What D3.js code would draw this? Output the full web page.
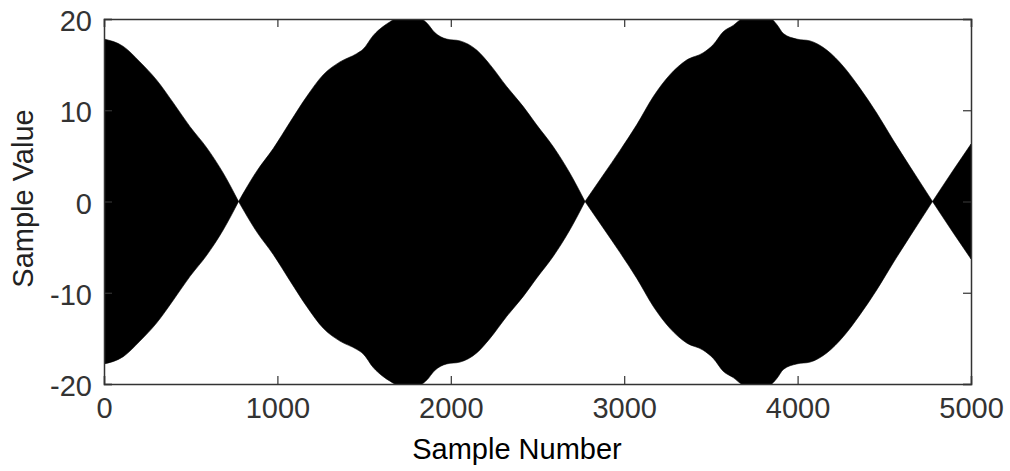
<!DOCTYPE html>
<html>
<head>
<meta charset="utf-8">
<script src="https://cdn.jsdelivr.net/npm/d3@7"></script>
<style>
  html, body { margin: 0; padding: 0; background: #fff; }
  svg { display: block; }
  text { font-family: "Liberation Sans", Arial, Helvetica, sans-serif; }
</style>
</head>
<body>
<svg id="chart" width="1010" height="471"></svg>
<script>
// Envelope of the oscillating signal: sample index and peak amplitude (the trace fills ±amplitude)
const sampleIdx = [0, 111, 207, 304, 400, 496, 592, 688, 776, 880, 976, 1073, 1169, 1265, 1361, 1457, 1495, 1553, 1611, 1650, 1688, 1750, 1822, 1865, 1903, 1976, 2053, 2149, 2226, 2322, 2418, 2495, 2591, 2687, 2774, 2879, 2976, 3072, 3168, 3264, 3360, 3456, 3514, 3571, 3629, 3687, 3760, 3841, 3880, 3918, 3995, 4072, 4168, 4264, 4360, 4456, 4552, 4649, 4778, 4900, 5000];
const envelope  = [17.8, 17.0, 15.3, 13.3, 10.8, 8.2, 5.9, 3.1, 0.0, 3.3, 5.8, 8.7, 11.5, 13.9, 15.3, 16.2, 16.7, 18.2, 19.2, 19.7, 20.1, 20.3, 20.1, 19.5, 18.6, 17.8, 17.6, 16.6, 15.0, 12.6, 10.4, 8.4, 6.0, 3.1, 0.0, 2.9, 5.6, 8.4, 11.5, 13.9, 15.5, 16.3, 17.2, 18.6, 19.3, 20.1, 20.3, 20.1, 19.4, 18.4, 17.8, 17.6, 16.6, 14.8, 12.4, 9.7, 6.7, 3.8, 0.0, 3.5, 6.3];

const xTicks = [0, 1000, 2000, 3000, 4000, 5000];
const yTicks = [-20, -10, 0, 10, 20];
const xTitle = "Sample Number";
const yTitle = "Sample Value";

const margin = { left: 104, top: 19, right: 1010 - 971, bottom: 471 - 384 };
const width = 1010, height = 471;
const iw = width - margin.left - margin.right;
const ih = height - margin.top - margin.bottom;

const svg = d3.select("#chart");
const x = d3.scaleLinear().domain([0, 5000]).range([0, iw]);
const y = d3.scaleLinear().domain([-20, 20]).range([ih, 0]);

svg.append("defs").append("clipPath").attr("id", "plot-clip")
  .append("rect").attr("width", iw).attr("height", ih);

const g = svg.append("g").attr("transform", `translate(${margin.left},${margin.top})`);

// Split the envelope into lobes at its zero crossings so each crossing stays a sharp pinch
const pts = sampleIdx.map((s, i) => ({ s, a: envelope[i] }));
const lobes = [];
let current = [];
pts.forEach((p, i) => {
  current.push(p);
  if (p.a === 0 && i > 0) {
    lobes.push(current);
    current = [p];
  }
});
if (current.length > 1) lobes.push(current);

// Filled signal trace between the negative and positive envelope
const area = d3.area()
  .x(d => x(d.s))
  .y0(d => y(-d.a))
  .y1(d => y(d.a))
  .curve(d3.curveMonotoneX);

g.append("g").attr("clip-path", "url(#plot-clip)")
  .selectAll("path")
  .data(lobes)
  .join("path")
  .attr("d", area)
  .attr("fill", "#000")
  .attr("stroke", "#000")
  .attr("stroke-width", 0.6);

// Axes: inward ticks on all four sides, labels on bottom and left
const axisColor = "#333";
const tickLen = 8;
const plainNum = d => String(d);

const axBottom = g.append("g").attr("transform", `translate(0,${ih})`)
  .call(d3.axisBottom(x).tickValues(xTicks).tickFormat(plainNum).tickSize(-tickLen).tickPadding(13));
const axLeft = g.append("g")
  .call(d3.axisLeft(y).tickValues(yTicks).tickFormat(plainNum).tickSize(-tickLen).tickPadding(12));
const axTop = g.append("g")
  .call(d3.axisTop(x).tickValues(xTicks).tickFormat("").tickSize(-tickLen));
const axRight = g.append("g").attr("transform", `translate(${iw},0)`)
  .call(d3.axisRight(y).tickValues(yTicks).tickFormat("").tickSize(-tickLen));

[axBottom, axLeft, axTop, axRight].forEach(ax => {
  ax.select(".domain").attr("stroke", axisColor).attr("stroke-width", 1.5);
  ax.selectAll(".tick line").attr("stroke", axisColor).attr("stroke-width", 1.2);
  ax.selectAll(".tick text").attr("fill", "#333").attr("font-size", 29)
    .attr("font-family", "'Liberation Sans', Arial, sans-serif");
});
axLeft.selectAll(".tick text").attr("dy", "0.4em");

// Axis titles
svg.append("text")
  .attr("x", 517).attr("y", 459)
  .attr("text-anchor", "middle")
  .attr("font-size", 29)
  .attr("fill", "#000")
  .text(xTitle);

svg.append("text")
  .attr("transform", `translate(33,${margin.top + ih / 2 - 3}) rotate(-90)`)
  .attr("text-anchor", "middle")
  .attr("font-size", 29)
  .attr("fill", "#222")
  .text(yTitle);
</script>
</body>
</html>
